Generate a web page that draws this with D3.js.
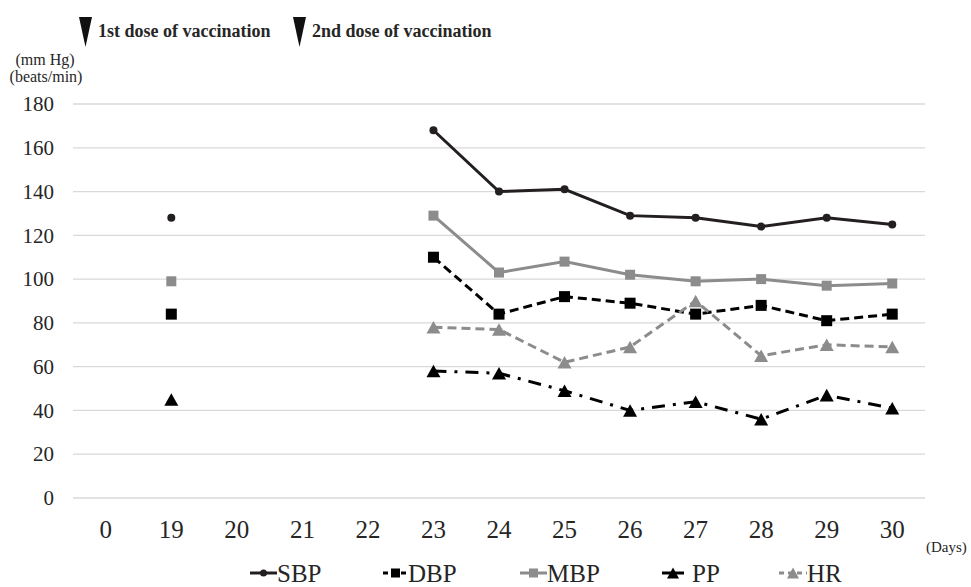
<!DOCTYPE html>
<html>
<head>
<meta charset="utf-8">
<script src="https://cdn.jsdelivr.net/npm/d3@7"></script>
<style>
  body { margin: 0; background: #fff; }
  svg text { font-family: "Liberation Serif", "DejaVu Serif", serif !important; fill: #262626; }
</style>
</head>
<body>
<script>
// days on the x axis (categories)
var days = ["0", "19", "20", "21", "22", "23", "24", "25", "26", "27", "28", "29", "30"];
var yTicks = [0, 20, 40, 60, 80, 100, 120, 140, 160, 180];

var sbp = [null, 128, null, null, null, 168, 140, 141, 129, 128, 124, 128, 125];
var dbp = [null, 84, null, null, null, 110, 84, 92, 89, 84, 88, 81, 84];
var mbp = [null, 99, null, null, null, 129, 103, 108, 102, 99, 100, 97, 98];
var pp  = [null, 45, null, null, null, 58, 57, 49, 40, 44, 36, 47, 41];
var hr  = [null, null, null, null, null, 78, 77, 62, 69, 90, 65, 70, 69];

var seriesNames = ["SBP", "DBP", "MBP", "PP", "HR"];
var doseLabels = ["1st dose of vaccination", "2nd dose of vaccination"];

var W = 971, H = 587;
var margin = {top: 104, right: 46, bottom: 89, left: 73},
    width = W - margin.left - margin.right,
    height = H - margin.top - margin.bottom;

var svg = d3.select("body").append("svg")
    .attr("width", W)
    .attr("height", H);

var g = svg.append("g")
    .attr("transform", "translate(" + margin.left + "," + margin.top + ")");

var x = d3.scaleBand().domain(days).range([0, width]).padding(0);
var y = d3.scaleLinear().domain([0, 180]).range([height, 0]);
var cx = function(i) { return x(days[i]) + x.bandwidth() / 2; };

// gridlines
g.append("g").selectAll("line")
  .data(yTicks)
  .enter().append("line")
  .attr("x1", 0).attr("x2", width)
  .attr("y1", function(d) { return y(d); })
  .attr("y2", function(d) { return y(d); })
  .attr("stroke", "#d9d9d9")
  .attr("stroke-width", 1.3);

// y axis labels
var yAxis = d3.axisLeft(y).tickValues(yTicks).tickSize(0).tickPadding(19);
g.append("g").call(yAxis)
  .attr("font-family", null)
  .call(function(s) { s.select(".domain").remove(); })
  .selectAll("text")
  .style("font-size", "21px")
  .attr("fill", "#262626");

// x axis labels
var xAxis = d3.axisBottom(x).tickSize(0).tickPadding(22);
g.append("g").attr("transform", "translate(0," + height + ")").call(xAxis)
  .attr("font-family", null)
  .call(function(s) { s.select(".domain").remove(); })
  .selectAll("text")
  .style("font-size", "25px")
  .attr("fill", "#262626");

// units
svg.append("text").attr("x", 45).attr("y", 65).attr("text-anchor", "middle")
  .style("font-size", "16px").text("(mm Hg)");
svg.append("text").attr("x", 46).attr("y", 82).attr("text-anchor", "middle")
  .style("font-size", "16px").text("(beats/min)");
svg.append("text").attr("x", 926).attr("y", 552)
  .style("font-size", "15px").text("(Days)");

// marker shapes
function tri(s) {
  var h = s * 0.9;
  return "M0," + (-h / 2) + "L" + (s / 2) + "," + (h / 2) + "L" + (-s / 2) + "," + (h / 2) + "Z";
}
function drawMarker(sel, shape, color, size) {
  if (shape === "circle") {
    sel.append("circle").attr("r", size / 2).attr("fill", color);
  } else if (shape === "square") {
    sel.append("rect").attr("x", -size / 2).attr("y", -size / 2)
      .attr("width", size).attr("height", size).attr("fill", color);
  } else {
    sel.append("path").attr("d", tri(size)).attr("fill", color);
  }
}

var series = [
  {name: "SBP", values: sbp, color: "#231f20", dash: null, shape: "circle", size: 8},
  {name: "DBP", values: dbp, color: "#000000", dash: "9,5", shape: "square", size: 11},
  {name: "MBP", values: mbp, color: "#8c8c8c", dash: null, shape: "square", size: 10},
  {name: "PP",  values: pp,  color: "#000000", dash: "13,8,3,8", shape: "triangle", size: 14},
  {name: "HR",  values: hr,  color: "#8c8c8c", dash: "9,5", shape: "triangle", size: 14}
];

var line = d3.line()
  .defined(function(d) { return d.v != null; })
  .x(function(d) { return cx(d.i); })
  .y(function(d) { return y(d.v); });

series.forEach(function(s) {
  var pts = s.values.map(function(v, i) { return {v: v, i: i}; });
  g.append("path")
    .datum(pts)
    .attr("d", line)
    .attr("fill", "none")
    .attr("stroke", s.color)
    .attr("stroke-width", 3)
    .attr("stroke-dasharray", s.dash);
  g.append("g").selectAll("g")
    .data(pts.filter(function(d) { return d.v != null; }))
    .enter().append("g")
    .attr("transform", function(d) { return "translate(" + cx(d.i) + "," + y(d.v) + ")"; })
    .each(function() { drawMarker(d3.select(this), s.shape, s.color, s.size); });
});

// dose markers on top
var doseX = [79, 293];
doseLabels.forEach(function(t, i) {
  svg.append("path")
    .attr("d", "M" + doseX[i] + ",17L" + (doseX[i] + 13) + ",17L" + (doseX[i] + 6.5) + ",47Z")
    .attr("fill", "#111");
  svg.append("text")
    .attr("x", doseX[i] + 19).attr("y", 37)
    .style("font-size", "18px").style("font-weight", "bold")
    .attr("fill", "#111")
    .text(t);
});

// legend
var legX = [250, 383, 520, 662, 779];
var legW = [27, 25, 27, 22, 28];
var legend = svg.append("g").selectAll("g")
  .data(series)
  .enter().append("g")
  .attr("transform", function(d, i) { return "translate(" + legX[i] + ",573)"; });

legend.append("line")
  .attr("x1", 0).attr("x2", function(d, i) { return legW[i]; })
  .attr("y1", 0).attr("y2", 0)
  .attr("stroke", function(d) { return d.color; })
  .attr("stroke-width", 3)
  .attr("stroke-dasharray", function(d) { return d.name === "PP" ? null : (d.dash ? "5,4" : null); });
legend.each(function(d, i) {
  var m = d3.select(this).append("g").attr("transform", "translate(" + legW[i] / 2 + ",0)");
  drawMarker(m, d.shape, d.color, d.shape === "circle" ? 7 : (d.shape === "square" ? 9 : 12));
});
legend.append("text")
  .attr("x", function(d, i) { return legW[i] + (d.name === "PP" ? 8 : 0); })
  .attr("y", 9)
  .style("font-size", "25px")
  .text(function(d) { return d.name; });
</script>
</body>
</html>
